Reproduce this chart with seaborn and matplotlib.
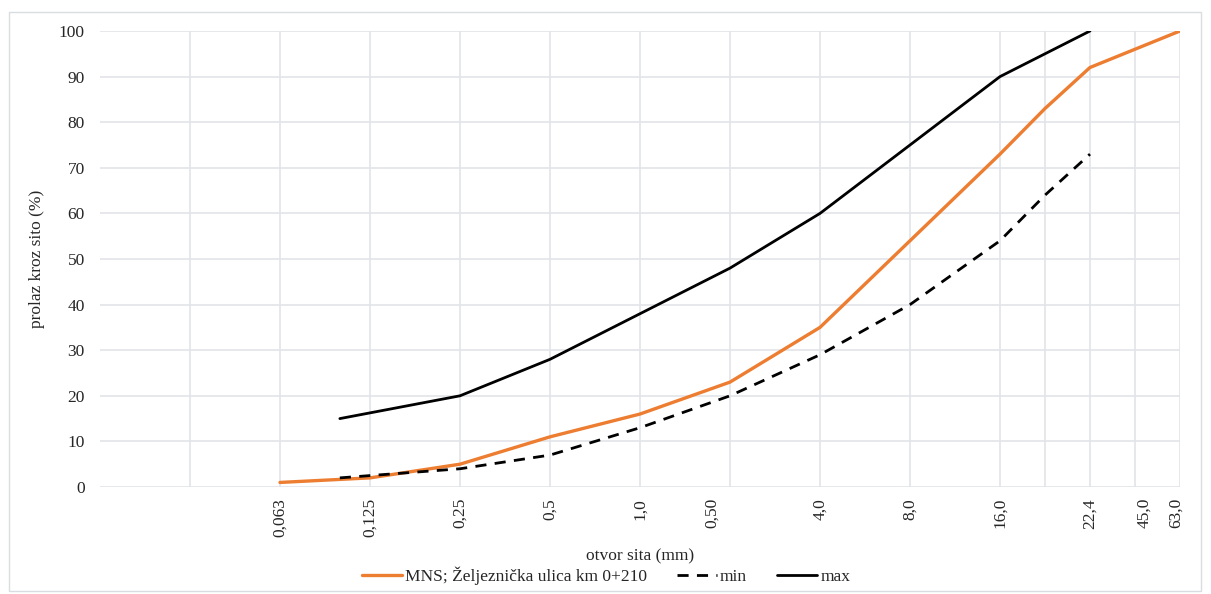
import matplotlib
matplotlib.use("Agg")
import matplotlib.pyplot as plt
import seaborn as sns
import pandas as pd
from matplotlib.patches import Rectangle

# ---- data ----
mns_x = [4, 6, 8, 10, 12, 14, 16, 18, 20, 21, 22, 24]
mns_y = [1, 2, 5, 11, 16, 23, 35, 54, 73, 83, 92, 100]
lim_x = [5.33, 8, 10, 12, 14, 16, 18, 20, 21, 22]
min_y = [2, 4, 7, 13, 20, 29, 40, 54, 64, 73]
max_y = [15, 20, 28, 38, 48, 60, 75, 90, 95, 100]
tick_labels = ["0,063", "0,125", "0,25", "0,5", "1,0", "0,50", "4,0", "8,0", "16,0", "22,4", "45,0", "63,0"]
tick_pos = [4, 6, 8, 10, 12, 13.6, 16, 18, 20, 22, 23.2, 23.9]
grid_pos = [2, 4, 6, 8, 10, 12, 14, 16, 18, 20, 21, 22, 23, 24]
series_names = ["MNS; Željeznička ulica km 0+210", "min", "max"]

sns.set_style("white")
plt.rcParams["font.family"] = ["Liberation Serif", "DejaVu Serif"]
FS = 12.5

fig = plt.figure(figsize=(12.11, 5.94), dpi=100)
ax = fig.add_axes([100/1211, 1-487/594, 1080/1211, 456/594])

df_mns = pd.DataFrame({"x": mns_x, "y": mns_y})
df_min = pd.DataFrame({"x": lim_x, "y": min_y})
df_max = pd.DataFrame({"x": lim_x, "y": max_y})

sns.lineplot(data=df_mns, x="x", y="y", ax=ax, color="#ED7D31", lw=2.4,
             label=series_names[0], zorder=3)
sns.lineplot(data=df_min, x="x", y="y", ax=ax, color="black", lw=2.0,
             linestyle=(0, (4, 3)), label=series_names[1], zorder=3)
sns.lineplot(data=df_max, x="x", y="y", ax=ax, color="black", lw=2.0,
             label=series_names[2], zorder=3)

ax.set_xlim(0, 24)
ax.set_ylim(0, 100)
ax.xaxis.remove_overlapping_locs = False
ax.set_yticks(range(0, 101, 10))
ax.set_xticks(tick_pos)
ax.set_xticklabels(tick_labels, rotation=90, fontsize=FS)
ax.set_xticks(grid_pos, minor=True)
ax.tick_params(axis="x", which="both", length=0, pad=8)
ax.tick_params(axis="y", length=0, pad=11, labelsize=FS)
ax.grid(True, axis="y", color="#E1E4E8", lw=1.2)
ax.grid(True, axis="x", which="minor", color="#E1E4E8", lw=1.2)
ax.grid(False, axis="x", which="major")
for s in ax.spines.values():
    s.set_visible(False)

ax.set_xlabel("otvor sita (mm)", fontsize=FS)
ax.set_ylabel("prolaz kroz sito (%)", fontsize=FS)
ax.xaxis.set_label_coords((640-100)/1080, -(548-487)/456)
ax.yaxis.set_label_coords(-(100-45)/1080, 0.5)

ax.get_legend().remove()
h, l = ax.get_legend_handles_labels()
fig.legend(h, l, loc="center", bbox_to_anchor=(606/1211, 1-576/594), ncol=3,
           frameon=False, fontsize=FS, handlelength=2.3, handletextpad=0.2,
           columnspacing=1.7)

fig.patches.append(Rectangle((9/1211, 0.005), 1192/1211, 1-12/594-0.005,
                             transform=fig.transFigure, fill=False,
                             edgecolor="#D9DCE0", lw=1.0))

fig.savefig("out.png", dpi=100)
